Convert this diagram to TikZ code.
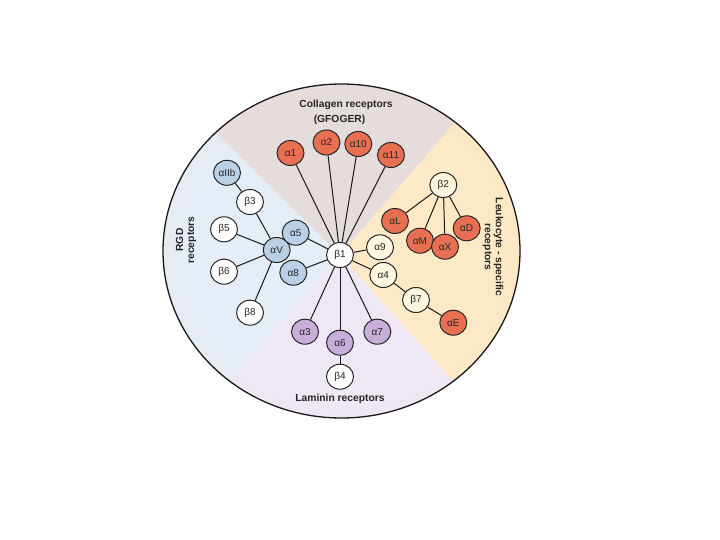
\documentclass[tikz,border=0pt]{standalone}
\usepackage{fontspec}
\setmainfont{Liberation Sans}
\usetikzlibrary{shapes.geometric,calc}
\definecolor{colIn}{RGB}{229,221,219}
\definecolor{colOut}{RGB}{246,215,200}
\definecolor{rgdIn}{RGB}{229,237,246}
\definecolor{rgdOut}{RGB}{248,224,210}
\definecolor{lamIn}{RGB}{238,231,244}
\definecolor{lamOut}{RGB}{244,226,236}
\definecolor{leuIn}{RGB}{253,233,198}
\definecolor{leuOut}{RGB}{252,224,182}
\definecolor{nred}{RGB}{232,112,82}
\definecolor{nblue}{RGB}{185,208,230}
\definecolor{npurp}{RGB}{199,174,219}
\definecolor{ncream}{RGB}{253,245,222}
\pgfdeclareradialshading{colsh}{\pgfpointorigin}{color(0bp)=(colIn); color(22bp)=(colIn); color(50bp)=(colOut)}
\pgfdeclareradialshading{rgdsh}{\pgfpointorigin}{color(0bp)=(rgdIn); color(22bp)=(rgdIn); color(50bp)=(rgdOut)}
\pgfdeclareradialshading{lamsh}{\pgfpointorigin}{color(0bp)=(lamIn); color(22bp)=(lamIn); color(50bp)=(lamOut)}
\pgfdeclareradialshading{leush}{\pgfpointorigin}{color(0bp)=(leuIn); color(22bp)=(leuIn); color(50bp)=(leuOut)}
\tikzset{
  nd/.style={ellipse, draw=black!85, line width=1pt, minimum width=27pt, minimum height=25pt,
    inner sep=0pt, text=black!85, font=\fontsize{10}{10}\selectfont},
  red/.style={nd, fill=nred},
  blu/.style={nd, fill=nblue},
  pur/.style={nd, fill=npurp},
  wht/.style={nd, fill=white},
  crm/.style={nd, fill=ncream},
  lnk/.style={line width=1pt, black!90},
  lbl/.style={font=\bfseries\fontsize{10.3}{11}\selectfont, text=black!85, inner sep=0pt}
}
\begin{document}
\begin{tikzpicture}[x=1pt,y=-1pt]
\useasboundingbox (0,0) rectangle (720,540);
\coordinate (apex) at (340,255);
\coordinate (dc) at (341.5,251);
% sectors
\begin{scope}
  \clip (apex) -- ($(apex)+(-49:500)$) -- ($(apex)+(-135.6:500)$) -- cycle;
  \shade[shading=colsh] (dc) ellipse [x radius=178.5, y radius=167];
\end{scope}
\begin{scope}
  \clip (apex) -- ($(apex)+(-135.6:500)$) -- ($(apex)+(-228.7:500)$) -- cycle;
  \shade[shading=rgdsh] (dc) ellipse [x radius=178.5, y radius=167];
\end{scope}
\begin{scope}
  \clip (apex) -- ($(apex)+(-228.7:500)$) -- ($(apex)+(-312:500)$) -- cycle;
  \shade[shading=lamsh] (dc) ellipse [x radius=178.5, y radius=167];
\end{scope}
\begin{scope}
  \clip (apex) -- ($(apex)+(-312:500)$) -- ($(apex)+(-409:500)$) -- cycle;
  \shade[shading=leush] (dc) ellipse [x radius=178.5, y radius=167];
\end{scope}
\draw[line width=1.3pt, black!90] (dc) ellipse [x radius=178.5, y radius=167];
% labels
\node[lbl] (col1) at (346,105) {Collagen receptors};
\node[lbl] (col2) at (339.5,119.5) {(GFOGER)};
\node[lbl] (lam) at (340,398.5) {Laminin receptors};
\node[lbl, rotate=-90, align=center] (leu) at (493,247) {Leukocyte - specific\\receptors};
\node[lbl, rotate=90, align=center] (rgd) at (186,240) {RGD\\receptors};
% nodes
\node[wht] (b1) at (340,255) {β1};
\node[red] (a1) at (290.5,153) {α1};
\node[red] (a2) at (326.5,142.5) {α2};
\node[red] (a10) at (358.3,144) {α10};
\node[red] (a11) at (391,155) {α11};
\node[blu] (aIIb) at (227,172.8) {αIIb};
\node[wht] (b3) at (250,202) {β3};
\node[wht] (b5) at (224,229.3) {β5};
\node[blu] (aV) at (276.7,250) {αV};
\node[blu] (a5) at (295.7,232.7) {α5};
\node[blu] (a8) at (293.3,272.7) {α8};
\node[wht] (b6) at (224,271.7) {β6};
\node[wht] (b8) at (250,312.7) {β8};
\node[pur] (a3) at (305,331.7) {α3};
\node[pur] (a6) at (340,342.7) {α6};
\node[pur] (a7) at (377.3,331.7) {α7};
\node[wht] (b4) at (340,376.7) {β4};
\node[crm] (b2) at (443.3,185) {β2};
\node[red] (aL) at (395,221) {αL};
\node[red] (aM) at (420,240.7) {αM};
\node[red] (aX) at (445,246.7) {αX};
\node[red] (aD) at (466.7,228.3) {αD};
\node[crm] (a9) at (380,247.3) {α9};
\node[crm] (a4) at (383.3,275) {α4};
\node[crm] (b7) at (416,300) {β7};
\node[red] (aE) at (453.3,322.7) {αE};
% connectors
\foreach \t in {a1,a2,a10,a11,a5,a8,a3,a6,a7,a9,a4}
  \draw[lnk] (b1) -- (\t);
\draw[lnk] (aIIb) -- (b3);
\draw[lnk] (b3) -- (aV);
\draw[lnk] (b5) -- (aV);
\draw[lnk] (b6) -- (aV);
\draw[lnk] (b8) -- (aV);
\draw[lnk] (a6) -- (b4);
\draw[lnk] (b2) -- (aL);
\draw[lnk] (b2) -- (aM);
\draw[lnk] (b2) -- (aX);
\draw[lnk] (b2) -- (aD);
\draw[lnk] (a4) -- (b7);
\draw[lnk] (b7) -- (aE);
\end{tikzpicture}
\end{document}
